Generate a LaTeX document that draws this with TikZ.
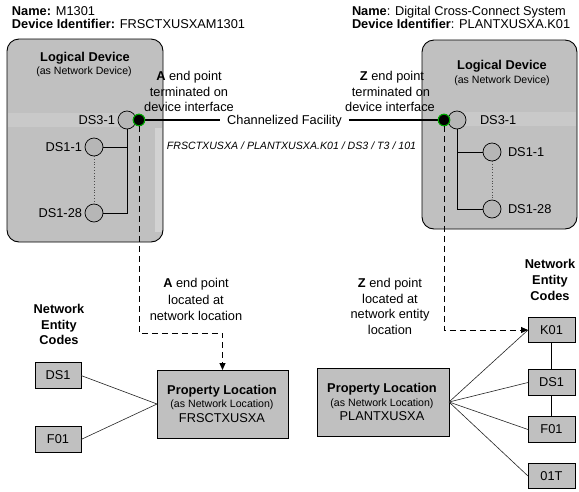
\documentclass[tikz,border=0pt]{standalone}
\usepackage{fontspec}
\setmainfont{Liberation Sans}
\usetikzlibrary{arrows.meta}
\definecolor{boxgray}{RGB}{192,192,192}
\definecolor{circgray}{RGB}{182,182,182}
\definecolor{bandgray}{RGB}{201,201,201}
\definecolor{stripegray}{RGB}{210,210,210}
\definecolor{epgreen}{RGB}{0,170,0}
\tikzset{
 every node/.style={inner sep=0pt, outer sep=0pt},
 devbox/.style={draw=black, line width=0.9pt, fill=boxgray, rounded corners=12pt},
 port/.style={circle, draw=black, line width=0.7pt, fill=circgray, minimum size=18pt},
 endpt/.style={circle, draw=epgreen, line width=1pt, fill=black, minimum size=11.5pt},
 txt/.style={font=\fontsize{12.8}{15.5}\selectfont},
 smalltxt/.style={font=\fontsize{10.6}{12}\selectfont},
 hd/.style={font=\bfseries\fontsize{12.8}{15.5}\selectfont},
 codebox/.style={draw=black, line width=0.8pt, fill=boxgray, minimum width=46pt, minimum height=25.5pt, font=\fontsize{12.8}{15}\selectfont},
 propbox/.style={draw=black, line width=0.8pt, fill=boxgray, minimum width=131pt, minimum height=68pt},
 wire/.style={draw=black, line width=0.8pt},
 thinwire/.style={draw=black!85, line width=0.6pt},
 fac/.style={draw=black, line width=2.6pt},
 dasharr/.style={draw=black, line width=0.9pt, dash pattern=on 6pt off 4pt, -{Triangle[length=7pt,width=6pt]}},
}
\begin{document}
\begin{tikzpicture}[x=1pt,y=-1pt]
\fill[white] (0,0) rectangle (579,491);
\useasboundingbox (0,0) rectangle (579,491);

% headers
\node[txt, anchor=base west] (nameL) at (12,15) {\textbf{Name:} M1301};
\node[txt, anchor=base west] (idL) at (12,28) {\textbf{Device Identifier:} FRSCTXUSXAM1301};
\node[txt, anchor=base west] (nameR) at (352,15) {\textbf{Name}: Digital Cross-Connect System};
\node[txt, anchor=base west] (idR) at (352,28) {\textbf{Device Identifier}: PLANTXUSXA.K01};

% device boxes
\node[devbox, minimum width=156pt, minimum height=203pt] (ldev) at (85,140.5) {};
\node[devbox, minimum width=155pt, minimum height=189pt] (rdev) at (499.5,134.5) {};
% shading artefacts
\fill[bandgray] (8,113) rectangle (125,127);
\fill[stripegray] (155,128) rectangle (162,232);
\fill[bandgray] (452,112) rectangle (576,126);

\node[hd, anchor=base] (ldT) at (85,61.5) {Logical Device};
\node[smalltxt, anchor=base] (ldS) at (84,74.5) {(as Network Device)};
\node[hd, anchor=base] (rdT) at (502,69.5) {Logical Device};
\node[smalltxt, anchor=base] (rdS) at (502,83.5) {(as Network Device)};

% left ports
\node[port] (ds3L) at (127,120) {};
\node[port] (ds11L) at (94,147) {};
\node[port] (ds128L) at (94,213) {};
\node[txt, anchor=base east] (ds3Ll) at (115,124.5) {DS3-1};
\node[txt, anchor=base east] (ds11Ll) at (82,151.5) {DS1-1};
\node[txt, anchor=base east] (ds128Ll) at (82,217.5) {DS1-28};
\draw[wire] (ds3L.south) |- (ds128L.east);
\draw[wire] (ds11L.east) -- (ds3L.south |- ds11L.east);
\draw[black!70, line width=0.8pt, dotted] (ds11L.south) -- (ds128L.north);

% right ports
\node[port] (ds3R) at (457,120) {};
\node[port] (ds11R) at (492,152) {};
\node[port] (ds128R) at (492,209) {};
\node[txt, anchor=base west] (ds3Rl) at (480,124.5) {DS3-1};
\node[txt, anchor=base west] (ds11Rl) at (508,156.5) {DS1-1};
\node[txt, anchor=base west] (ds128Rl) at (508,213.5) {DS1-28};
\draw[wire] (ds3R.south) |- (ds128R.west);
\draw[wire] (ds3R.south |- ds11R.west) -- (ds11R.west);
\draw[black!70, line width=0.8pt, dotted] (ds11R.south) -- (ds128R.north);

% end points texts
\node[txt, anchor=base] (aT1) at (189,80.5) {\textbf{A} end point};
\node[txt, anchor=base] (aT2) at (189,96) {terminated on};
\node[txt, anchor=base] (aT3) at (189,111.5) {device interface};
\node[txt, anchor=base] (zT1) at (392,80.5) {\textbf{Z} end point};
\node[txt, anchor=base] (zT2) at (391,96) {terminated on};
\node[txt, anchor=base] (zT3) at (390,111.5) {device interface};

% facility
\node[txt, inner xsep=7pt, text height=9.2pt, text depth=0pt] (cf) at (284.5,120) {Channelized Facility};
\node[font=\itshape\fontsize{10.6}{12}\selectfont, anchor=base] (cfl) at (291.5,149.8) {FRSCTXUSXA / PLANTXUSXA.K01 / DS3 / T3 / 101};
\node[endpt] (epL) at (139,120) {};
\node[endpt] (epR) at (444,120) {};
\draw[fac] (epL.east) -- (cf.west);
\draw[fac] (cf.east) -- (epR.west);
\node[endpt] at (epL) {};
\node[endpt] at (epR) {};

% property locations
\node[propbox] (propL) at (222.5,404) {};
\node[hd, anchor=base] (pLt) at (222,394) {Property Location};
\node[smalltxt, anchor=base] (pLs) at (222,407.7) {(as Network Location)};
\node[txt, anchor=base] (pLn) at (222,422.5) {FRSCTXUSXA};
\node[propbox, minimum width=132pt] (propR) at (383,402) {};
\node[hd, anchor=base] (pRt) at (382,392.3) {Property Location};
\node[smalltxt, anchor=base] (pRs) at (382,406.5) {(as Network Location)};
\node[txt, anchor=base] (pRn) at (382,420.3) {PLANTXUSXA};

% dashed connectors
\coordinate (abend) at (139,333);
\draw[dasharr] (epL.south) -- (abend) -| (propL.north);
\node[txt, anchor=base] (aL1) at (196,287.7) {\textbf{A} end point};
\node[txt, anchor=base] (aL2) at (196,304) {located at};
\node[txt, anchor=base] (aL3) at (196,320) {network location};

% entity codes left
\node[hd, anchor=base] (necL1) at (59,313.3) {Network};
\node[hd, anchor=base] (necL2) at (59,329) {Entity};
\node[hd, anchor=base] (necL3) at (59,344.3) {Codes};
\node[codebox] (dsL) at (58,375.5) {DS1};
\node[codebox] (f01L) at (58,439.5) {F01};
\draw[thinwire] (dsL.east) -- (propL.west);
\draw[thinwire] (f01L.east) -- (propL.west);

% entity codes right
\node[hd, anchor=base] (necR1) at (550,268.3) {Network};
\node[hd, anchor=base] (necR2) at (550,284.3) {Entity};
\node[hd, anchor=base] (necR3) at (550,300) {Codes};
\node[codebox, minimum width=47pt] (k01) at (551.5,330) {K01};
\node[codebox, minimum width=47pt] (dsR) at (551.5,382.5) {DS1};
\node[codebox, minimum width=47pt] (f01R) at (551.5,429.5) {F01};
\node[codebox, minimum width=47pt] (t01) at (551.5,476) {01T};
\draw[wire] (k01.south) -- (dsR.north);
\draw[wire] (dsR.south) -- (f01R.north);
\draw[thinwire] (propR.east) -- (k01.west);
\draw[thinwire] (propR.east) -- (dsR.west);
\draw[thinwire] (propR.east) -- (f01R.west);
\draw[thinwire] (propR.east) -- (t01.west);

\coordinate (zbend) at (444,330);
\draw[dasharr] (epR.south) -- (zbend) -- (k01.west);
\node[txt, anchor=base] (zL1) at (390,287.3) {\textbf{Z} end point};
\node[txt, anchor=base] (zL2) at (390,303) {located at};
\node[txt, anchor=base] (zL3) at (390,318.7) {network entity};
\node[txt, anchor=base] (zL4) at (390,334.4) {location};
\end{tikzpicture}
\end{document}
